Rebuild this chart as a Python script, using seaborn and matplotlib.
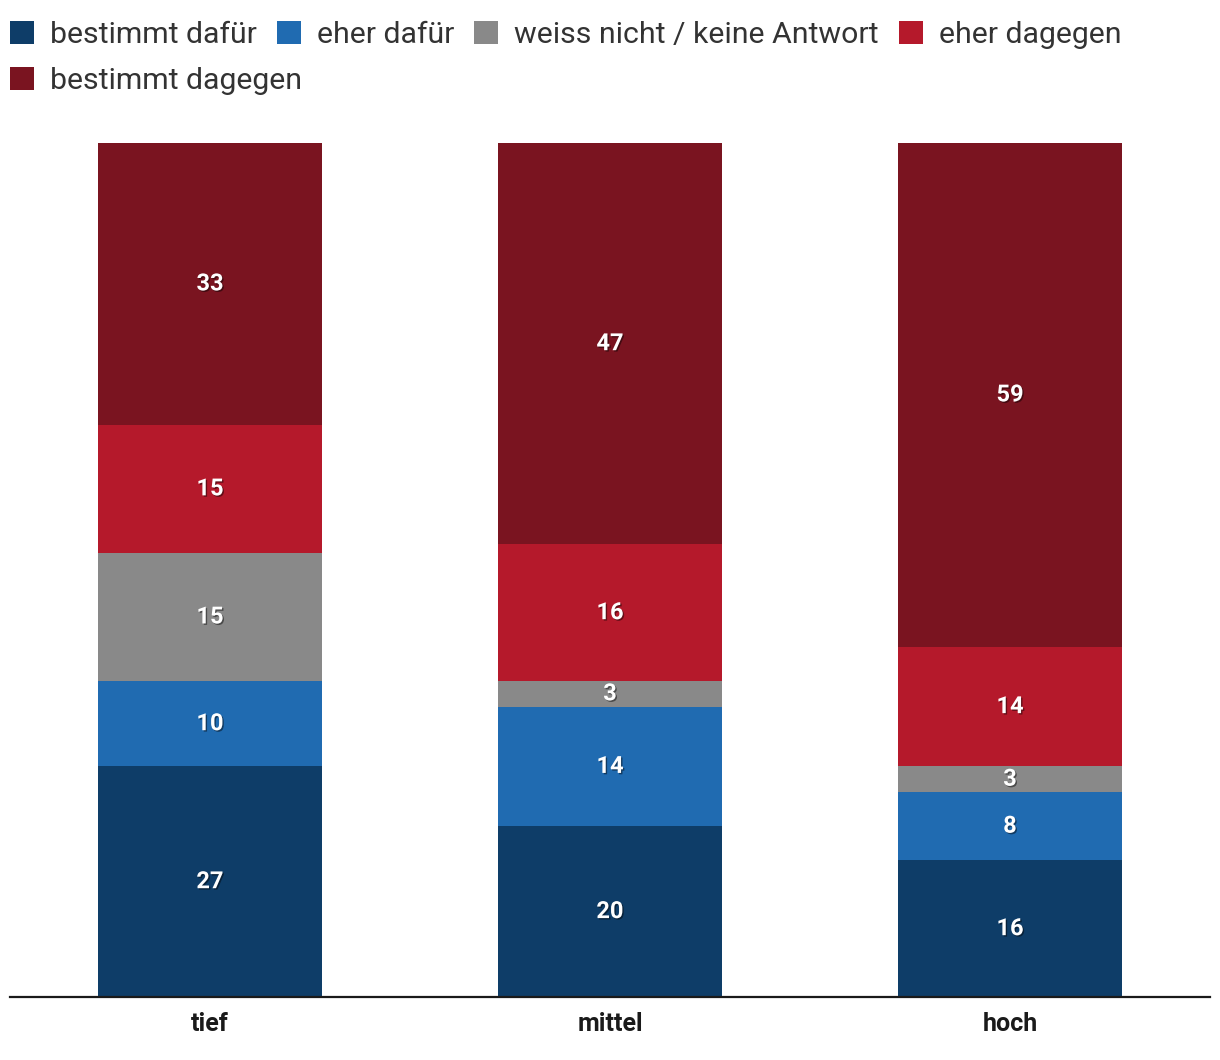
import matplotlib
matplotlib.use("Agg")
import matplotlib.pyplot as plt
import matplotlib.patheffects as pe
import numpy as np
import seaborn as sns

# Data (percent)
groups = ["tief", "mittel", "hoch"]
series_names = [
    "bestimmt dafür",
    "eher dafür",
    "weiss nicht / keine Antwort",
    "eher dagegen",
    "bestimmt dagegen",
]
bestimmt_dafuer = [27, 20, 16]
eher_dafuer = [10, 14, 8]
weiss_nicht = [15, 3, 3]
eher_dagegen = [15, 16, 14]
bestimmt_dagegen = [33, 47, 59]
colors = ["#0e3d68", "#206bb1", "#898989", "#b5192b", "#7a1420"]


def main():
    sns.set_theme(style="white")
    plt.rcParams["font.family"] = ["Roboto", "DejaVu Sans"]

    fig = plt.figure(figsize=(12.2, 10.6), dpi=100)
    ax = fig.add_axes([10 / 1220, 63 / 1060, 1200 / 1220, 854 / 1060])

    all_series = [bestimmt_dafuer, eher_dafuer, weiss_nicht, eher_dagegen, bestimmt_dagegen]
    bottom = np.zeros(len(groups))
    shadow = [pe.SimplePatchShadow(offset=(1, -1), shadow_rgbFace="black", alpha=0.45), pe.Normal()]
    for name, vals, col in zip(series_names, all_series, colors):
        sns.barplot(x=groups, y=vals, bottom=bottom, color=col, width=0.56,
                    saturation=1, ax=ax, label=name, linewidth=0)
        cont = ax.containers[-1]
        texts = ax.bar_label(cont, labels=[str(v) for v in vals], label_type="center",
                             color="white", fontsize=17, fontweight="bold")
        for t in texts:
            t.set_path_effects(shadow)
        bottom = bottom + np.array(vals)

    if ax.get_legend() is not None:
        ax.get_legend().remove()

    ax.set_xlim(-0.5, 2.5)
    ax.set_ylim(0, 100)
    ax.set_yticks([])
    ax.set_ylabel("")
    for side in ["top", "right", "left"]:
        ax.spines[side].set_visible(False)
    ax.spines["bottom"].set_color("#1a1a1a")
    ax.spines["bottom"].set_linewidth(1.6)
    ax.tick_params(axis="x", length=0, pad=11)
    for lbl in ax.get_xticklabels():
        lbl.set_fontsize(18)
        lbl.set_fontweight("bold")
        lbl.set_color("#1a1a1a")

    # legend flows over two rows, so use two figure legends
    handles, labels = ax.get_legend_handles_labels()
    leg_kw = dict(frameon=False, handlelength=0.79, handleheight=0.79,
                  handletextpad=0.53, columnspacing=0.66, borderaxespad=0, borderpad=0,
                  labelcolor="#333333", prop={"weight": "normal", "size": 21.8})
    fig.legend(handles[:4], labels[:4], ncol=4, loc="upper left",
               bbox_to_anchor=(10 / 1220, 1 - 21 / 1060), **leg_kw)
    fig.legend(handles[4:], labels[4:], ncol=1, loc="upper left",
               bbox_to_anchor=(10 / 1220, 1 - 67 / 1060), **leg_kw)

    fig.savefig("out.png", dpi=100)
    plt.close(fig)


if __name__ == "__main__":
    main()
